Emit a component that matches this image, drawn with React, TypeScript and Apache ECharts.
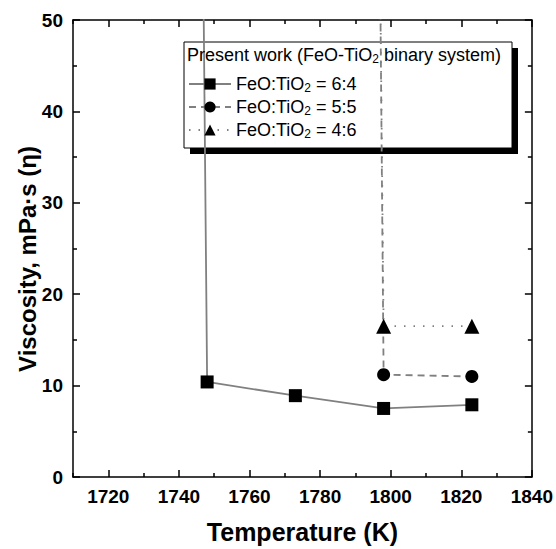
import React, { useEffect, useRef } from "react";
import * as echarts from "echarts";

const seriesNames = ["FeO:TiO2 = 6:4", "FeO:TiO2 = 5:5", "FeO:TiO2 = 4:6"];
const temps64 = [1746.8, 1748, 1773, 1798, 1823];
const visc64 = [60, 10.4, 8.9, 7.5, 7.9];
const temps55 = [1796.9, 1798, 1823];
const visc55 = [60, 11.2, 11.0];
const temps46 = [1796.9, 1798, 1823];
const visc46 = [60, 16.5, 16.5];
const xMajorTicks = [1720, 1740, 1760, 1780, 1800, 1820, 1840];
const xMinorTicks = [1710, 1730, 1750, 1770, 1790, 1810, 1830];
const legendTitle = "Present work (FeO-TiO2 binary system)";
const yTitle = "Viscosity, mPa·s (η)";
const xTitle = "Temperature (K)";

const FONT = "Liberation Sans, Arial, sans-serif";
const GRAY = "#808080";

function pts(xs: number[], ys: number[]) {
  return xs.map((x, i) =>
    ys[i] > 50 ? { value: [x, ys[i]], symbol: "none" } : { value: [x, ys[i]] }
  );
}

export default function App() {
  const ref = useRef<HTMLDivElement>(null);
  useEffect(() => {
    const chart = echarts.init(ref.current!, null, { renderer: "svg" });
    const lineBlack = { color: "#000", width: 1.5 };
    const xAxisBase = (position: string, ticks: number[], len: number, showLine: boolean, labels: boolean) => ({
      type: "value",
      position,
      min: 1710,
      max: 1840,
      interval: 10,
      axisLine: { show: showLine, onZero: false, lineStyle: lineBlack },
      axisTick: { show: true, inside: true, length: len, customValues: ticks, lineStyle: lineBlack },
      splitLine: { show: false },
      axisLabel: labels
        ? {
            show: true,
            customValues: xMajorTicks,
            formatter: (v: number) => String(v),
            fontFamily: FONT,
            fontSize: 19,
            fontWeight: "bold",
            color: "#000",
            margin: 10,
          }
        : { show: false },
    });
    const yAxisBase = (position: string) => ({
      type: "value",
      position,
      min: 0,
      max: 50,
      interval: 10,
      axisLine: { show: true, onZero: false, lineStyle: lineBlack },
      axisTick: { show: true, inside: true, length: 7, lineStyle: lineBlack },
      minorTick: { show: true, splitNumber: 2, length: 4, lineStyle: lineBlack },
      splitLine: { show: false },
    });
    const subRich = {
      a: { fontFamily: FONT, fontSize: 18, color: "#000", lineHeight: 20 },
      s: { fontFamily: FONT, fontSize: 12, color: "#000", lineHeight: 12, verticalAlign: "bottom" },
    };
    const richify = (t: string) => {
      const parts = t.split("TiO2");
      return "{a|" + parts[0] + "TiO}{s|2}{a|" + parts[1] + "}";
    };
    chart.setOption({
      animation: false,
      grid: { left: 73, right: 23, top: 20, bottom: 67 },
      xAxis: [
        {
          ...xAxisBase("bottom", xMajorTicks, 7, true, true),
          name: xTitle,
          nameLocation: "middle",
          nameGap: 42,
          nameTextStyle: { fontFamily: FONT, fontSize: 25, fontWeight: "bold", color: "#000" },
        },
        xAxisBase("bottom", xMinorTicks, 4, false, false),
        xAxisBase("top", xMajorTicks, 7, true, false),
        xAxisBase("top", xMinorTicks, 4, false, false),
      ],
      yAxis: [
        {
          ...yAxisBase("left"),
          axisLabel: { fontFamily: FONT, fontSize: 19, fontWeight: "bold", color: "#000", margin: 10 },
        },
        { ...yAxisBase("right"), axisLabel: { show: false } },
      ],
      legend: {
        orient: "vertical",
        left: 188,
        top: 75,
        padding: 0,
        itemWidth: 42,
        itemHeight: 14,
        itemGap: 4,
        data: seriesNames,
        formatter: (n: string) => richify(n),
        textStyle: { rich: subRich, fontFamily: FONT, fontSize: 18, color: "#000" },
        z: 5,
      },
      graphic: [
        {
          type: "text",
          x: 27,
          y: 259,
          rotation: Math.PI / 2,
          style: {
            text: yTitle,
            fontFamily: FONT,
            fontSize: 24,
            fontWeight: "bold",
            fill: "#000",
            align: "center",
            verticalAlign: "middle",
          },
        },
        { type: "rect", z: 3, shape: { x: 190, y: 48, width: 328, height: 106 }, style: { fill: "#000" } },
        {
          type: "rect",
          z: 3,
          shape: { x: 184, y: 42, width: 328, height: 106 },
          style: { fill: "#fff", stroke: "#000", lineWidth: 1 },
        },
        {
          type: "text",
          z: 4,
          left: 187,
          top: 46,
          style: {
            text: richify(legendTitle),
            rich: subRich,
          },
        },
      ],
      series: [
        {
          name: seriesNames[0],
          type: "line",
          data: pts(temps64, visc64),
          clip: true,
          symbol: "rect",
          symbolSize: 13,
          itemStyle: { color: "#000" },
          lineStyle: { color: GRAY, width: 1.8, type: "solid" },
        },
        {
          name: seriesNames[1],
          type: "line",
          data: pts(temps55, visc55),
          clip: true,
          symbol: "circle",
          symbolSize: 13,
          itemStyle: { color: "#000" },
          lineStyle: { color: GRAY, width: 1.8, type: [7, 5] },
        },
        {
          name: seriesNames[2],
          type: "line",
          data: pts(temps46, visc46),
          clip: true,
          symbol: "triangle",
          symbolSize: 15,
          itemStyle: { color: "#000" },
          lineStyle: { color: GRAY, width: 1.8, type: [1.5, 8] },
        },
      ],
    });
    return () => chart.dispose();
  }, []);
  return (
    <div
      ref={ref}
      style={{ position: "absolute", left: 0, top: 0, width: 556, height: 549, overflow: "hidden" }}
    />
  );
}
